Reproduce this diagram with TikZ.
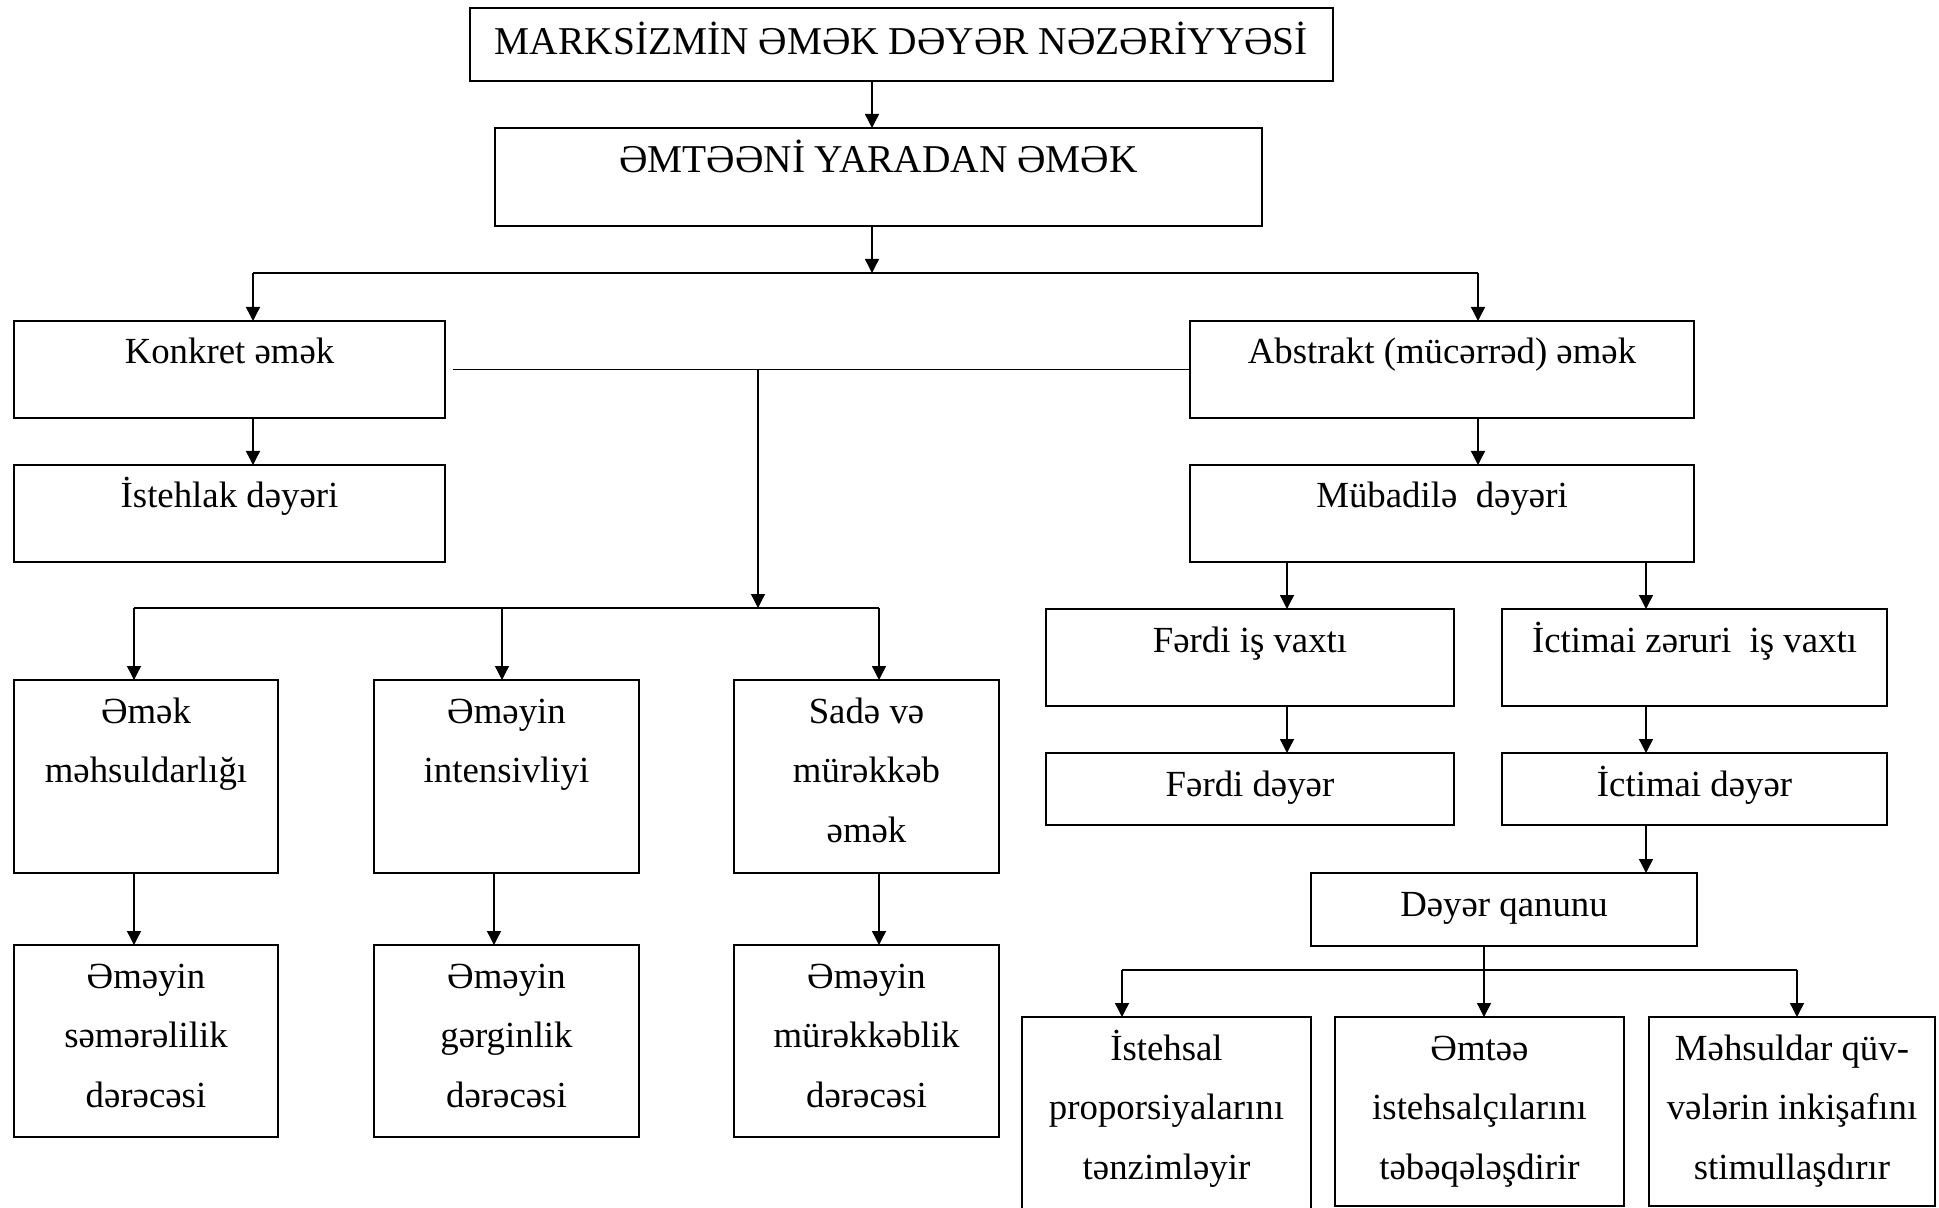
\documentclass[tikz,border=0pt]{standalone}
\usepackage{fontspec}
\setmainfont{Liberation Serif}
\usetikzlibrary{arrows.meta}
\tikzset{
  boxst/.style={draw, line width=0.95pt, inner sep=0pt, outer sep=0pt},
  txt/.style={inner sep=0pt, outer sep=0pt, align=center, anchor=north,
    font=\fontsize{18.4}{29.8}\selectfont},
  hdr/.style={txt, font=\fontsize{19.7}{29.8}\selectfont},
  conn/.style={line width=0.7pt},
  arr/.style={conn, -{Triangle[length=7pt,width=7pt]}},
}
% name, x1, y1, x2, y2, text style, text offset, text
\newcommand\mkbox[8]{%
  \node[boxst, anchor=north west, minimum width={(#4-#2)*0.5pt},
        minimum height={(#5-#3)*0.5pt}] (#1) at (#2,#3) {};
  \node[#6] (#1-t) at ({(#2+#4)/2},{#3+#7}) {\rule{0pt}{20.3pt}#8};
}
\begin{document}
\begin{tikzpicture}[x=0.5pt, y=-0.5pt]
\useasboundingbox (0,0) rectangle (1939,1208);

\mkbox{T}{470}{8}{1333}{81}{hdr}{6.4}{MARKSİZMİN ƏMƏK DƏYƏR NƏZƏRİYYƏSİ}
\mkbox{E}{495}{128}{1262}{226}{hdr}{4.4}{ƏMTƏƏNİ YARADAN ƏMƏK}
\mkbox{K}{14}{321}{445}{418}{txt}{2.4}{Konkret əmək}
\mkbox{A}{1190}{321}{1694}{418}{txt}{2.4}{Abstrakt (mücərrəd) əmək}
\mkbox{I}{14}{465}{445}{562}{txt}{2.4}{İstehlak dəyəri}
\mkbox{M}{1190}{465}{1694}{562}{txt}{2.4}{Mübadilə~ dəyəri}
\mkbox{R1}{14}{680}{278}{873}{txt}{2.4}{Əmək\\məhsuldarlığı}
\mkbox{R2}{374}{680}{639}{873}{txt}{2.4}{Əməyin\\intensivliyi}
\mkbox{R3}{734}{680}{999}{873}{txt}{2.4}{Sadə və\\mürəkkəb\\əmək}
\mkbox{B1}{14}{945}{278}{1137}{txt}{2.4}{Əməyin\\səmərəlilik\\dərəcəsi}
\mkbox{B2}{374}{945}{639}{1137}{txt}{2.4}{Əməyin\\gərginlik\\dərəcəsi}
\mkbox{B3}{734}{945}{999}{1137}{txt}{2.4}{Əməyin\\mürəkkəblik\\dərəcəsi}
\mkbox{F1}{1046}{609}{1454}{706}{txt}{2.4}{Fərdi iş vaxtı}
\mkbox{C1}{1502}{609}{1887}{706}{txt}{2.4}{İctimai zəruri~ iş vaxtı}
\mkbox{F2}{1046}{753}{1454}{825}{txt}{2.4}{Fərdi dəyər}
\mkbox{C2}{1502}{753}{1887}{825}{txt}{2.4}{İctimai dəyər}
\mkbox{D}{1311}{873}{1697}{946}{txt}{2.4}{Dəyər qanunu}
\mkbox{Q1}{1022}{1017}{1311}{1230}{txt}{2.4}{İstehsal\\proporsiyalarını\\tənzimləyir}
\mkbox{Q2}{1335}{1017}{1624}{1206}{txt}{2.4}{Əmtəə\\istehsalçılarını\\təbəqələşdirir}
\mkbox{Q3}{1649}{1017}{1935}{1206}{txt}{2.4}{Məhsuldar qüv-\\vələrin inkişafını\\stimullaşdırır}

% column coordinates
\coordinate (x872) at (872,0);
\coordinate (x494) at (494,0);
\coordinate (x1287) at (1287,0);
\coordinate (x1646) at (1646,0);

% top
\draw[arr] (T.south -| x872) -- (E.north -| x872);
\coordinate (j1) at (872,273);
\coordinate (j1l) at (253,273);
\coordinate (j1r) at (1478,273);
\draw[arr] (E.south -| x872) -- (j1);
\draw[conn] (j1l) -- (j1r);
\draw[arr] (j1l) -- (K.north -| j1l);
\draw[arr] (j1r) -- (A.north -| j1r);
\draw[arr] (K.south -| j1l) -- (I.north -| j1l);
\draw[arr] (A.south -| j1r) -- (M.north -| j1r);

% middle link
\coordinate (m1) at (453,369.5);
\coordinate (m2) at (758,369.5);
\coordinate (j2) at (758,608);
\draw[conn] (m1) -- (A.west);
\draw[arr] (m2) -- (j2);

% left branch
\coordinate (j2l) at (134,608);
\coordinate (j2m) at (502,608);
\coordinate (j2r) at (879,608);
\draw[conn] (j2l) -- (j2r);
\draw[arr] (j2l) -- (R1.north -| j2l);
\draw[arr] (j2m) -- (R2.north -| j2m);
\draw[arr] (j2r) -- (R3.north -| j2r);
\draw[arr] (R1.south -| j2l) -- (B1.north -| j2l);
\draw[arr] (R2.south -| x494) -- (B2.north -| x494);
\draw[arr] (R3.south -| j2r) -- (B3.north -| j2r);

% right side
\draw[arr] (M.south -| x1287) -- (F1.north -| x1287);
\draw[arr] (M.south -| x1646) -- (C1.north -| x1646);
\draw[arr] (F1.south -| x1287) -- (F2.north -| x1287);
\draw[arr] (C1.south -| x1646) -- (C2.north -| x1646);
\draw[arr] (C2.south -| x1646) -- (D.north -| x1646);

% bottom right branch
\coordinate (j3l) at (1122,970);
\coordinate (j3m) at (1484,970);
\coordinate (j3r) at (1797,970);
\draw[conn] (D.south -| j3m) -- (j3m);
\draw[conn] (j3l) -- (j3r);
\draw[arr] (j3l) -- (Q1.north -| j3l);
\draw[arr] (j3m) -- (Q2.north -| j3m);
\draw[arr] (j3r) -- (Q3.north -| j3r);
\end{tikzpicture}
\end{document}
